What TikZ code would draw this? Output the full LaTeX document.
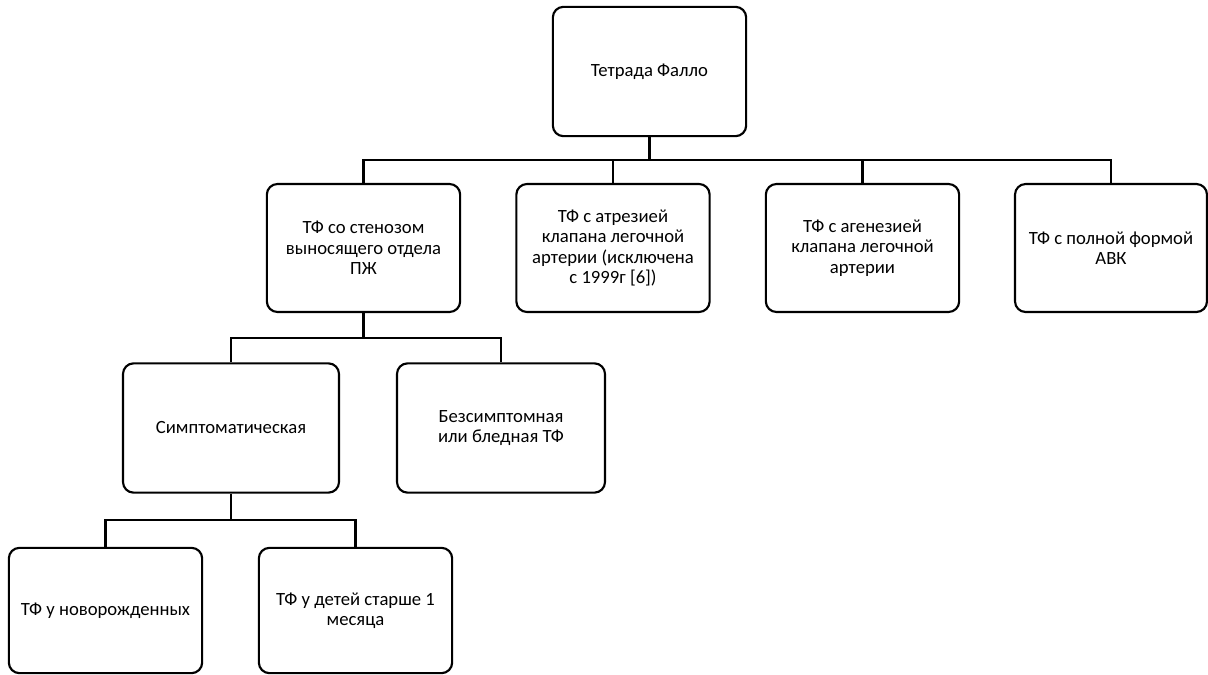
\documentclass[tikz,border=0pt]{standalone}
\usepackage{fontspec}
\setmainfont{Carlito}
\tikzset{
  box/.style={draw, line width=1.6pt, rounded corners=8pt, align=center,
    font=\fontsize{14pt}{15.2pt}\selectfont, inner sep=0pt},
  link/.style={line width=1.6pt},
}
\begin{document}
\begin{tikzpicture}[x=0.75pt, y=-0.75pt]
\useasboundingbox (0,0) rectangle (1208,675);

% Root
\node[box, minimum width=145pt, minimum height=97pt] (root) at (649.5,71.5) {Тетрада Фалло};

% Second level
\node[box, minimum width=145pt, minimum height=96pt] (sten) at (363.5,248) {ТФ со стенозом\\выносящего отдела\\ПЖ};
\node[box, minimum width=145pt, minimum height=96pt] (atr) at (613,248) {ТФ с атрезией\\клапана легочной\\артерии (исключена\\с 1999г [6])};
\node[box, minimum width=145pt, minimum height=96pt] (agen) at (862.5,248) {ТФ с агенезией\\клапана легочной\\артерии};
\node[box, minimum width=144pt, minimum height=96pt] (avk) at (1111,248) {ТФ с полной формой\\АВК};

% Third level
\node[box, minimum width=162pt, minimum height=97pt] (sympt) at (231,428) {Симптоматическая};
\node[box, minimum width=156pt, minimum height=97pt] (asympt) at (501,428) {Безсимптомная\\или бледная ТФ};

% Fourth level
\node[box, minimum width=145pt, minimum height=94pt] (newb) at (105.5,610.5) {ТФ у новорожденных};
\node[box, minimum width=145pt, minimum height=94pt] (older) at (355.5,610.5) {ТФ у детей старше 1\\месяца};

% Connectors
\coordinate (busA) at (649.5,160);
\coordinate (busB) at (363.5,338);
\coordinate (busC) at (231,520);

\draw[link] (root.south) -- (busA);
\foreach \c in {sten,atr,agen,avk}
  \draw[link] (busA) -| (\c.north);

\draw[link] (sten.south) -- (busB);
\foreach \c in {sympt,asympt}
  \draw[link] (busB) -| (\c.north);

\draw[link] (sympt.south) -- (busC);
\foreach \c in {newb,older}
  \draw[link] (busC) -| (\c.north);

\end{tikzpicture}
\end{document}
